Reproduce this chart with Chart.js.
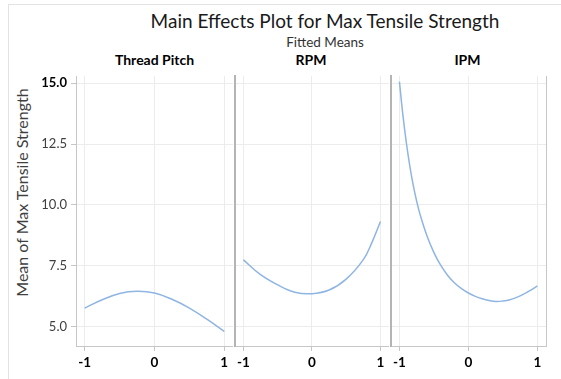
<!doctype html>
<html>
<head>
<meta charset="utf-8">
<title>Main Effects Plot for Max Tensile Strength</title>
<script src="https://cdn.jsdelivr.net/npm/chart.js"></script>
<style>
  body { margin: 0; background: #fff; font-family: Lato, sans-serif; }
  #wrap { position: relative; width: 561px; height: 379px; overflow: hidden; }
  #frame { position: absolute; left: 8px; top: 4px; width: 600px; height: 400px; border: 1px solid #e3e3e3; }
  .txt { position: absolute; text-align: center; white-space: nowrap; color: #1a1a1a; }
  canvas { position: absolute; }
</style>
</head>
<body>
<div id="wrap">
  <div id="frame"></div>
  <div class="txt" style="left:125px;width:400px;top:9px;font-size:19px;">Main Effects Plot for Max Tensile Strength</div>
  <div class="txt" style="left:225px;width:200px;top:34px;font-size:13.5px;color:#333;">Fitted Means</div>
  <div class="txt" style="left:76px;width:157px;top:51px;font-size:14px;font-weight:bold;color:#000;">Thread Pitch</div>
  <div class="txt" style="left:233px;width:156px;top:51px;font-size:14px;font-weight:bold;color:#000;">RPM</div>
  <div class="txt" style="left:389px;width:157px;top:51px;font-size:14px;font-weight:bold;color:#000;">IPM</div>
  <div class="txt" style="left:-89px;width:220px;top:183px;font-size:16px;color:#404040;transform:rotate(-90deg);">Mean of Max Tensile Strength</div>
  <canvas id="c1" width="203" height="312" style="left:30px;top:64px"></canvas>
  <canvas id="c2" width="156" height="312" style="left:233px;top:64px"></canvas>
  <canvas id="c3" width="160" height="312" style="left:389px;top:64px"></canvas>
</div>
<script>
const xTicks = [-1, 0, 1];
const yTicks = [5, 7.5, 10, 12.5, 15];

const pitchX = [-1, -0.75, -0.5, -0.25, 0, 0.25, 0.5, 0.75, 1];
const pitchY = [5.76, 6.1, 6.36, 6.45, 6.38, 6.12, 5.76, 5.3, 4.8];

const rpmX = [-1, -0.75, -0.5, -0.25, 0, 0.25, 0.5, 0.75, 0.875, 1];
const rpmY = [7.74, 7.13, 6.71, 6.41, 6.35, 6.50, 6.95, 7.75, 8.45, 9.32];

const ipmX = [-1, -0.95, -0.9, -0.85, -0.8, -0.75, -0.7, -0.6, -0.5, -0.4, -0.3, -0.2, -0.1, 0, 0.1, 0.2, 0.3, 0.4, 0.5, 0.6, 0.7, 0.8, 0.9, 1];
const ipmY = [15.07, 13.70, 12.56, 11.61, 10.81, 10.15, 9.60, 8.72, 8.04, 7.51, 7.10, 6.79, 6.56, 6.38, 6.24, 6.14, 6.07, 6.03, 6.05, 6.10, 6.20, 6.33, 6.49, 6.67];

const gridColor = '#ececec';
const lineColor = '#8fb5e3';

// right-hand border of the last panel
const rightEdge = {
  id: 'rightEdge',
  afterDraw(chart, args, opts) {
    if (!opts.on) return;
    const { ctx, chartArea: a } = chart;
    ctx.save();
    ctx.strokeStyle = '#c6c6c6';
    ctx.lineWidth = 1;
    ctx.beginPath();
    ctx.moveTo(a.right + 0.5, a.top);
    ctx.lineTo(a.right + 0.5, a.bottom);
    ctx.stroke();
    ctx.restore();
  }
};

function panel(id, xs, ys, first, last) {
  new Chart(document.getElementById(id), {
    type: 'scatter',
    data: {
      datasets: [{
        data: xs.map((x, i) => ({ x, y: ys[i] })),
        showLine: true,
        borderColor: lineColor,
        borderWidth: 1.5,
        pointRadius: 0,
        tension: 0.4
      }]
    },
    plugins: [rightEdge],
    options: {
      responsive: false,
      animation: false,
      layout: { padding: { top: 12, right: last ? 3 : 0, left: 0, bottom: 0 } },
      plugins: { legend: { display: false }, tooltip: { enabled: false }, rightEdge: { on: last } },
      scales: {
        x: {
          min: -1.125, max: 1.125,
          afterBuildTicks: s => { s.ticks = xTicks.map(v => ({ value: v })); },
          afterFit: s => { s.height = 30; },
          grid: { color: gridColor, tickLength: 5, tickColor: '#c6c6c6' },
          border: { color: '#c6c6c6', width: 1 },
          ticks: { color: '#000', padding: 4, font: { family: 'Lato', size: 13.5, weight: 'bold' }, callback: v => String(v) }
        },
        y: {
          min: 4.2, max: 15.3,
          afterBuildTicks: s => { s.ticks = yTicks.map(v => ({ value: v })); },
          afterFit: s => { s.width = first ? 46 : 0; },
          grid: { color: gridColor, drawTicks: first, tickLength: 5, tickColor: '#c6c6c6' },
          border: { color: first ? '#c6c6c6' : '#b4b4b4', width: first ? 1 : 2 },
          ticks: {
            display: first,
            padding: 4,
            color: c => c.tick && c.tick.value === 15 ? '#000' : '#404040',
            font: c => ({ family: 'Lato', size: 13, weight: c.tick && c.tick.value === 15 ? 'bold' : 'normal' }),
            callback: v => Number(v).toFixed(1)
          }
        }
      }
    }
  });
}

panel('c1', pitchX, pitchY, true, false);
panel('c2', rpmX, rpmY, false, false);
panel('c3', ipmX, ipmY, false, true);
</script>
</body>
</html>
